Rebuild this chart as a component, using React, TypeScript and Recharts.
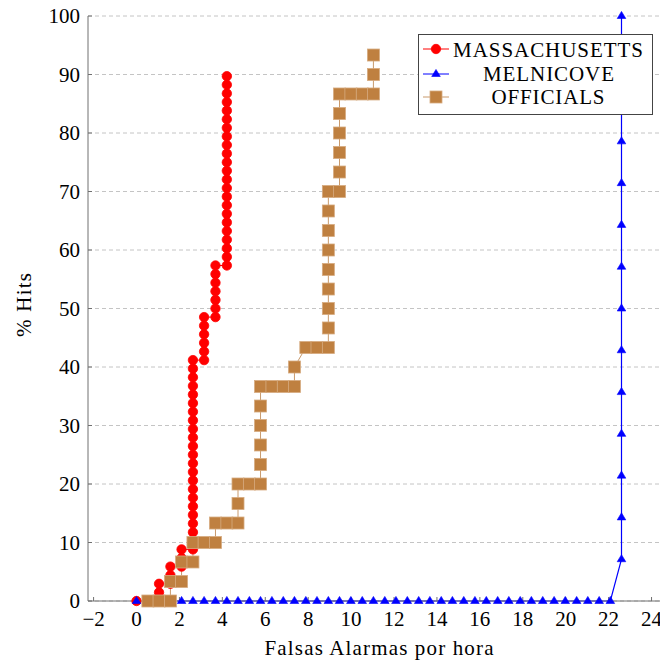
/**
 * ROC-style chart: % Hits vs false alarms per hour for three detectors
 */

import React from 'react';
import { LineChart, Line, XAxis, YAxis, CartesianGrid } from 'recharts';

const FONT = 'Liberation Serif';
const AXIS = '#707070';
const RED = '#ff0000';
const BLUE = '#0000ff';
const BROWN = '#bf8040';
const BROWN_EDGE = '#d6ab80';

const xTicks = [-2, 0, 2, 4, 6, 8, 10, 12, 14, 16, 18, 20, 22, 24];
const yTicks = [0, 10, 20, 30, 40, 50, 60, 70, 80, 90, 100];

// [falsas alarmas por hora, % hits]
const massachusetts: [number, number][] = [
  [0, 0], [1.05, 0], [1.05, 1.47], [1.05, 2.94],
  [1.58, 2.94], [1.58, 4.41], [1.58, 5.88],
  [2.1, 5.88], [2.1, 7.35], [2.1, 8.82],
  [2.63, 8.82], [2.63, 10.29], [2.63, 11.76], [2.63, 13.24], [2.63, 14.71], [2.63, 16.18],
  [2.63, 17.65], [2.63, 19.12], [2.63, 20.59], [2.63, 22.06], [2.63, 23.53], [2.63, 25.0],
  [2.63, 26.47], [2.63, 27.94], [2.63, 29.41], [2.63, 30.88], [2.63, 32.35], [2.63, 33.82],
  [2.63, 35.29], [2.63, 36.76], [2.63, 38.24], [2.63, 39.71], [2.63, 41.18],
  [3.15, 41.18], [3.15, 42.65], [3.15, 44.12], [3.15, 45.59], [3.15, 47.06], [3.15, 48.53],
  [3.68, 48.53], [3.68, 50.0], [3.68, 51.47], [3.68, 52.94], [3.68, 54.41], [3.68, 55.88], [3.68, 57.35],
  [4.21, 57.35], [4.21, 58.82], [4.21, 60.29], [4.21, 61.76], [4.21, 63.24], [4.21, 64.71],
  [4.21, 66.18], [4.21, 67.65], [4.21, 69.12], [4.21, 70.59], [4.21, 72.06], [4.21, 73.53],
  [4.21, 75.0], [4.21, 76.47], [4.21, 77.94], [4.21, 79.41], [4.21, 80.88], [4.21, 82.35],
  [4.21, 83.82], [4.21, 85.29], [4.21, 86.76], [4.21, 88.24], [4.21, 89.71],
];

const melnicoveFlatX = [
  0, 0.53, 1.05, 1.58, 2.1, 2.63, 3.15, 3.68, 4.21, 4.73, 5.26, 5.78, 6.31, 6.84, 7.36,
  7.89, 8.41, 8.94, 9.46, 9.99, 10.52, 11.04, 11.57, 12.09, 12.62, 13.15, 13.67, 14.2,
  14.72, 15.25, 15.77, 16.3, 16.83, 17.35, 17.88, 18.4, 18.93, 19.46, 19.98, 20.51,
  21.03, 21.56, 22.08,
];
const melnicoveRiseX = 22.6;
const melnicoveRiseY = [7.14, 14.29, 21.43, 28.57, 35.71, 42.86, 50, 57.14, 64.29, 71.43, 78.57, 85.71, 92.86, 100];

const officials: [number, number][] = [
  [0.53, 0], [1.05, 0], [1.58, 0],
  [1.58, 3.33], [2.1, 3.33],
  [2.1, 6.67], [2.63, 6.67],
  [2.63, 10], [3.15, 10], [3.68, 10],
  [3.68, 13.33], [4.21, 13.33], [4.73, 13.33],
  [4.73, 16.67], [4.73, 20], [5.26, 20], [5.78, 20],
  [5.78, 23.33], [5.78, 26.67], [5.78, 30], [5.78, 33.33], [5.78, 36.67],
  [6.31, 36.67], [6.84, 36.67], [7.36, 36.67],
  [7.36, 40],
  [7.89, 43.33], [8.41, 43.33], [8.94, 43.33],
  [8.94, 46.67], [8.94, 50], [8.94, 53.33], [8.94, 56.67], [8.94, 60], [8.94, 63.33], [8.94, 66.67], [8.94, 70],
  [9.46, 70], [9.46, 73.33], [9.46, 76.67], [9.46, 80], [9.46, 83.33], [9.46, 86.67],
  [9.99, 86.67], [10.52, 86.67], [11.04, 86.67],
  [11.04, 90], [11.04, 93.33],
];

const toRows = (pts: [number, number][]) => pts.map(([x, y]) => ({ x, y }));

const massRows = toRows(massachusetts);
const melRows = [
  ...melnicoveFlatX.map((x) => ({ x, y: 0 })),
  ...melnicoveRiseY.map((y) => ({ x: melnicoveRiseX, y })),
];
const offRows = toRows(officials);

const fmt = (v: number) => (v < 0 ? `\u2212${Math.abs(v)}` : `${v}`);

const RedDot = (p: any) => (
  <circle key={`r-${p.index}`} cx={p.cx} cy={p.cy} r={4.7} fill={RED} stroke={RED} strokeWidth={0.8} />
);

const triPts = (cx: number, cy: number) =>
  `${cx},${cy - 4.6} ${cx - 4.3},${cy + 2.5} ${cx + 4.3},${cy + 2.5}`;

const BlueDot = (p: any) => (
  <polygon key={`b-${p.index}`} points={triPts(p.cx, p.cy)} fill={BLUE} stroke={BLUE} strokeWidth={0.6} />
);

const BrownDot = (p: any) => (
  <rect key={`o-${p.index}`} x={p.cx - 6} y={p.cy - 6} width={12} height={12} fill={BROWN} stroke={BROWN_EDGE} strokeWidth={0.8} />
);

const tickStyle = { fill: '#000', fontSize: 21, fontFamily: FONT };
const textStyle = { fontFamily: FONT, fontSize: 21 };

export default function App() {
  return (
    <div style={{ position: 'fixed', left: 0, top: 0, width: 660, height: 660, overflow: 'hidden', background: '#fff', fontFamily: FONT }}>
      <LineChart width={700} height={660} margin={{ top: 16, right: 30, bottom: 29, left: 0 }}>
        <CartesianGrid xAxisId="b" yAxisId="l" vertical={false} stroke="#c4c4c4" strokeDasharray="4 3" />
        <XAxis
          xAxisId="b"
          type="number"
          dataKey="x"
          domain={[-2.26, 24.86]}
          allowDataOverflow
          ticks={xTicks}
          interval={0}
          height={30}
          stroke={AXIS}
          tickSize={-4}
          tickMargin={14}
          tick={tickStyle}
          tickFormatter={fmt}
        />
        <XAxis
          xAxisId="t"
          orientation="top"
          type="number"
          dataKey="x"
          domain={[-2.26, 24.86]}
          allowDataOverflow
          ticks={xTicks}
          interval={0}
          height={0}
          mirror
          stroke={AXIS}
          tickSize={4}
          tick={false}
        />
        <YAxis
          yAxisId="l"
          type="number"
          domain={[0, 100]}
          ticks={yTicks}
          interval={0}
          width={88}
          stroke={AXIS}
          tickSize={-4}
          tickMargin={12}
          tick={tickStyle}
        />
        <YAxis
          yAxisId="r"
          orientation="right"
          type="number"
          domain={[0, 100]}
          ticks={yTicks}
          interval={0}
          width={0}
          mirror
          stroke={AXIS}
          tickSize={4}
          tick={false}
        />
        <Line
          data={massRows}
          dataKey="y"
          xAxisId="b"
          yAxisId="l"
          type="linear"
          stroke={RED}
          strokeWidth={1}
          dot={RedDot}
          activeDot={false}
          isAnimationActive={false}
        />
        <Line
          data={melRows}
          dataKey="y"
          xAxisId="b"
          yAxisId="l"
          type="linear"
          stroke={BLUE}
          strokeWidth={1.2}
          dot={BlueDot}
          activeDot={false}
          isAnimationActive={false}
        />
        <Line
          data={offRows}
          dataKey="y"
          xAxisId="b"
          yAxisId="l"
          type="linear"
          stroke="#c99a6c"
          strokeWidth={1}
          dot={BrownDot}
          activeDot={false}
          isAnimationActive={false}
        />
      </LineChart>

      {/* axis titles + legend */}
      <svg width={660} height={660} style={{ position: 'absolute', left: 0, top: 0, pointerEvents: 'none' }}>
        <text x={379} y={655} textAnchor="middle" style={textStyle} textLength={229} lengthAdjust="spacing">
          Falsas Alarmas por hora
        </text>
        <text
          x={0}
          y={0}
          transform="translate(31,305) rotate(-90)"
          textAnchor="middle"
          style={textStyle}
          textLength={64}
          lengthAdjust="spacing"
        >
          % Hits
        </text>

        <rect x={418.5} y={34.5} width={234} height={80} fill="#fff" stroke="#444" strokeWidth={1} />
        <line x1={423} x2={449} y1={49} y2={49} stroke={RED} strokeWidth={1} />
        <circle cx={436} cy={49} r={4.7} fill={RED} stroke={RED} strokeWidth={0.8} />
        <text x={548} y={56.5} textAnchor="middle" style={textStyle} textLength={190} lengthAdjust="spacing">
          MASSACHUSETTS
        </text>
        <line x1={423} x2={449} y1={74} y2={74} stroke={BLUE} strokeWidth={1} />
        <polygon points={triPts(436, 74)} fill={BLUE} stroke={BLUE} strokeWidth={0.6} />
        <text x={548.5} y={81} textAnchor="middle" style={textStyle} textLength={131} lengthAdjust="spacing">
          MELNICOVE
        </text>
        <line x1={423} x2={449} y1={97} y2={97} stroke="#c99a6c" strokeWidth={1} />
        <rect x={430} y={91} width={12} height={12} fill={BROWN} stroke={BROWN_EDGE} strokeWidth={0.8} />
        <text x={548} y={104.3} textAnchor="middle" style={textStyle} textLength={113} lengthAdjust="spacing">
          OFFICIALS
        </text>
      </svg>
    </div>
  );
}
